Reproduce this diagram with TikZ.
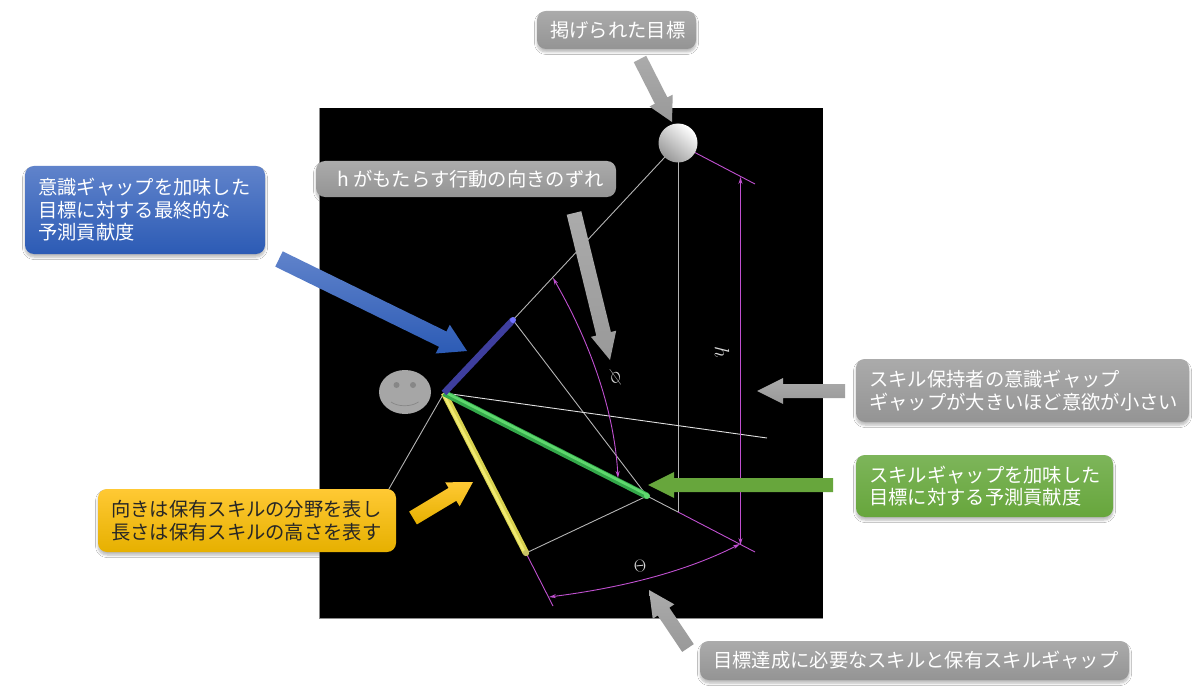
\documentclass[tikz,border=0pt]{standalone}
\usepackage{fontspec}
\setmainfont{Noto Sans CJK JP}
\usetikzlibrary{calc,shadows,shadows.blur,arrows.meta}
\definecolor{mag}{HTML}{C050D0}
\definecolor{lgray}{HTML}{B4B4B4}
\definecolor{blue1}{HTML}{6083CB}
\definecolor{blue2}{HTML}{2C5BB5}
\definecolor{green1}{HTML}{7DB55A}
\definecolor{green2}{HTML}{67A63C}
\definecolor{yel1}{HTML}{FFC934}
\definecolor{yel2}{HTML}{E6B000}
\definecolor{stickY}{HTML}{D9D24F}
\definecolor{stickYh}{HTML}{F0EA72}
\definecolor{stickG}{HTML}{33A84A}
\definecolor{stickGh}{HTML}{5FD86E}
\definecolor{stickB}{HTML}{3E3E9E}
\tikzset{
  x=1pt,y=-1pt,
  callout/.style={rounded corners=9pt,inner sep=0pt,outer sep=0pt,anchor=north west,
    blur shadow={shadow xshift=0pt,shadow yshift=-3pt,shadow blur steps=6,shadow blur radius=2.5pt,shadow opacity=28}},
  gbox/.style={callout,top color=black!33,bottom color=black!42},
  bluebox/.style={callout,top color=blue1,bottom color=blue2},
  greenbox/.style={callout,top color=green1,bottom color=green2},
  yelbox/.style={callout,top color=yel1,bottom color=yel2},
  boxtext/.style={anchor=west,align=left,inner sep=0pt,font=\fontsize{19.3}{22.5}\selectfont},
  gline/.style={draw=lgray,line width=0.9pt},
  wline/.style={draw=black!12,line width=0.9pt},
  mline/.style={draw=mag,line width=0.9pt},
  mdim/.style={mline,{Stealth[length=7pt,width=4pt,open]}-{Stealth[length=7pt,width=4pt,open]}},
  mlab/.style={text=black!15,inner sep=0pt},
  stick/.style={line width=6.5pt},
  gshade/.style={top color=black!33,bottom color=black!40},
  blshade/.style={top color=blue1,bottom color=blue2},
  yshade/.style={top color=yel1,bottom color=yel2},
  grshade/.style={top color=green2,bottom color=green2},
}
% block arrow: style, tail, tip, shaft width/2, head width/2, head length
\newcommand\barrow[6]{%
  \coordinate (m) at ($(#3)!#6pt!(#2)$);
  \shade[#1] ($(#2)!#4pt!90:(#3)$) -- ($(m)!#4pt!-90:(#2)$) -- ($(m)!#5pt!-90:(#2)$) -- (#3)
     -- ($(m)!#5pt!90:(#2)$) -- ($(m)!#4pt!90:(#2)$) -- ($(#2)!#4pt!-90:(#3)$) -- cycle;}
% box: style,name,x0,y0,x1,y1,text colour,text
\newcommand\cbox[8]{%
  \pgfmathsetmacro\bw{#5-#3}\pgfmathsetmacro\bh{#6-#4}%
  \node[#1,minimum width=\bw pt,minimum height=\bh pt] (#2) at (#3,#4) {};
  \node[boxtext,text=#7] (#2t) at ($(#2.west)+(13,0)$) {#8};}
\begin{document}
\begin{tikzpicture}
\useasboundingbox (0,0) rectangle (1200,690);
\fill[white] (0,0) rectangle (1200,690);
\fill[black] (319,108) rectangle (823,618);
\draw[black!45,line width=0.6pt] (319,108) -- (319,618) -- (823,618);
% points
\coordinate (O) at (444,393);
\coordinate (B) at (513,320);
\coordinate (Y) at (526,553);
\coordinate (G) at (647,496);
\coordinate (K) at (678,512);
\coordinate (F) at (767,438);
\coordinate (L) at (386,494);
\coordinate (T) at (678,143);
\coordinate (T1) at (692,151);
\coordinate (T2) at (755,184);
\coordinate (K2) at (755,552);
\coordinate (Y2) at (553,606);
\coordinate (h1) at (740.5,177);
\coordinate (h2) at (740.5,545);
\coordinate (p1) at (553,278);
\coordinate (p2) at (618,478);
\coordinate (t1) at (549,597);
\coordinate (t2) at (740,544);
% thin lines
\draw[gline] (L) -- (O);
\draw[gline] (B) -- (T);
\draw[gline] (B) -- (G) -- (K);
\draw[gline] (T) -- (K);
\draw[gline] (Y) -- (G);
\draw[wline] (O) -- (F);
% magenta dimension lines
\draw[mline] (T1) -- (T2);
\draw[mline] (K) -- (K2);
\draw[mline] (Y) -- (Y2);
\draw[mdim] (h1) -- (h2);
\draw[mdim] (p1) .. controls (586,335) and (614,405) .. (p2);
\draw[mdim] (t1) .. controls (620,588) and (685,572) .. (t2);
\node[mlab,rotate=-90,font=\fontsize{22}{22}\selectfont] (hl) at (722,352) {$h$};
\node[mlab,rotate=50,font=\fontsize{20}{20}\selectfont] (pl) at (615,378) {$\phi$};
\node[mlab,rotate=5,font=\fontsize{16}{16}\selectfont] (tl) at (640,566) {$\Theta$};
% sticks
\draw[stick,draw=stickY] (O) -- (Y);
\draw[line width=2.6pt,draw=stickYh] ($(O)+(-0.9,0.4)$) -- ($(Y)+(-0.9,0.4)$);
\draw[stick,draw=stickG] (O) -- (G);
\draw[line width=2.6pt,draw=stickGh] ($(O)+(0.5,-1)$) -- ($(G)+(0.5,-1)$);
\draw[stick,draw=stickB] (O) -- (B);
\fill[blue!55!white] (B) circle (3);
\fill[yellow!50!gray] (Y) circle (3.2);
\fill[stickGh] (G) circle (3);
% ball
\shade[top color=white,middle color=black!10,bottom color=black!40,shading angle=-40] (T) circle (19.5);
% face
\fill[black!35] (405,392) ellipse (26 and 22);
\fill[black!47] (396.5,385) circle (3);
\fill[black!47] (413,385) circle (3);
\draw[black!47,line width=0.7pt] (391,402) .. controls (398,407) and (411,407) .. (418.5,402);
% callouts
\cbox{gbox}{goal}{537}{11}{696}{49}{white}{掲げられた目標}
\cbox{gbox}{hb}{316}{161}{616}{197}{white}{\hspace{8pt}h がもたらす行動の向きのずれ}
\cbox{bluebox}{bb}{25}{166}{265}{254}{white}{意識ギャップを加味した\\目標に対する最終的な\\予測貢献度}
\cbox{yelbox}{yb}{98}{489}{396}{552}{black!85}{向きは保有スキルの分野を表し\\長さは保有スキルの高さを表す}
\cbox{gbox}{rb}{856}{359}{1189}{422}{white}{スキル保持者の意識ギャップ\\ギャップが大きいほど意欲が小さい}
\cbox{greenbox}{grb}{856}{455}{1113}{517}{white}{スキルギャップを加味した\\目標に対する予測貢献度}
\cbox{gbox}{sb}{700}{641}{1129}{680}{white}{目標達成に必要なスキルと保有スキルギャップ}
% block arrows
\coordinate (a1) at (640,59);   \coordinate (a1t) at (672,122);
\coordinate (a2) at (574,213);  \coordinate (a2t) at (610,360);
\coordinate (a3) at (279,259);  \coordinate (a3t) at (467,351);
\coordinate (a4) at (413,518);  \coordinate (a4t) at (473,482);
\coordinate (a5) at (833,485);  \coordinate (a5t) at (648,485);
\coordinate (a6) at (845,391);  \coordinate (a6t) at (757,391);
\coordinate (a7) at (688,648);  \coordinate (a7t) at (649,590);
\barrow{gshade}{a1}{a1t}{7}{13}{24}
\barrow{gshade}{a2}{a2t}{7.5}{13}{27}
\barrow{blshade}{a3}{a3t}{8.5}{16}{27}
\barrow{yshade}{a4}{a4t}{7.5}{14}{24}
\barrow{grshade}{a5}{a5t}{7}{13}{26}
\barrow{gshade}{a6}{a6t}{7}{13}{26}
\barrow{gshade}{a7}{a7t}{7}{13}{26}
\end{tikzpicture}
\end{document}
